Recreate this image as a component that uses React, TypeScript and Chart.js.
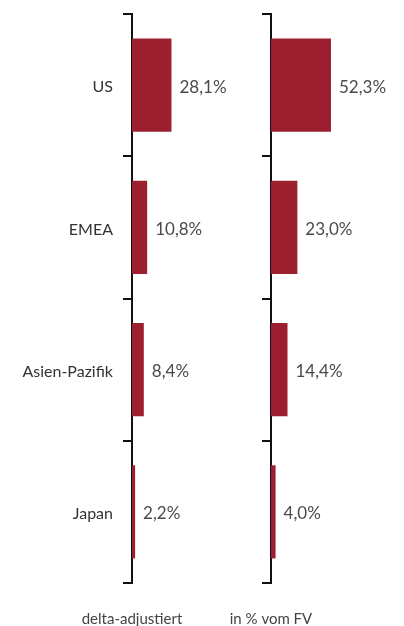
import React, { useEffect, useRef } from "react";
import { Chart, registerables } from "chart.js";

Chart.register(...registerables);

const categories = ["US", "EMEA", "Asien-Pazifik", "Japan"];
const deltaValues = [28.1, 10.8, 8.4, 2.2];
const fvValues = [52.3, 23.0, 14.4, 4.0];
const panelTitles = ["delta-adjustiert", "in % vom FV"];

const BAR_COLOR = "#9b1f2f";
const FONT = "Lato, 'Open Sans', sans-serif";

const fmt = (v: number) => v.toFixed(1).replace(".", ",") + "%";

function makeLabelPlugin(title: string, showCategories: boolean) {
  return {
    id: "valueLabels",
    afterDatasetsDraw(chart: any) {
      const ctx = chart.ctx;
      const meta = chart.getDatasetMeta(0);
      const data = chart.data.datasets[0].data as number[];
      const labels = chart.data.labels as string[];
      const left = chart.chartArea.left;
      ctx.save();
      ctx.font = `17px ${FONT}`;
      ctx.fillStyle = "#4a4a4a";
      ctx.textAlign = "left";
      ctx.textBaseline = "middle";
      meta.data.forEach((bar: any, i: number) => {
        ctx.fillText(fmt(data[i]), bar.x + 8, bar.y + 2);
      });
      if (showCategories) {
        ctx.font = `16px ${FONT}`;
        ctx.fillStyle = "#333";
        ctx.textAlign = "right";
        meta.data.forEach((bar: any, i: number) => {
          ctx.fillText(labels[i], left - 19, bar.y + 2);
        });
      }
      ctx.font = `15px ${FONT}`;
      ctx.fillStyle = "#444";
      ctx.textAlign = "center";
      ctx.textBaseline = "alphabetic";
      ctx.fillText(title, left, 624);
      ctx.restore();
    },
  };
}

function Panel(props: {
  values: number[];
  title: string;
  left: number;
  width: number;
  axisWidth: number;
  max: number;
  showLabels: boolean;
}) {
  const ref = useRef<HTMLCanvasElement>(null);
  useEffect(() => {
    if (!ref.current) return;
    const chart = new Chart(ref.current, {
      type: "bar",
      data: {
        labels: categories,
        datasets: [
          {
            data: props.values,
            backgroundColor: BAR_COLOR,
            borderWidth: 0,
            categoryPercentage: 1,
            barPercentage: 0.655,
          },
        ],
      },
      options: {
        indexAxis: "y",
        animation: false,
        responsive: false,
        maintainAspectRatio: false,
        layout: { padding: { top: 14, bottom: 43, left: 0, right: 0 } },
        plugins: { legend: { display: false }, tooltip: { enabled: false } },
        scales: {
          x: { display: false, min: 0, max: props.max },
          y: {
            type: "category",
            offset: true,
            afterFit: (scale: any) => {
              scale.width = props.axisWidth;
            },
            grid: {
              offset: true,
              drawOnChartArea: false,
              drawTicks: true,
              tickLength: 9,
              color: "#111",
              lineWidth: 2,
            },
            border: { display: true, color: "#111", width: 2 },
            ticks: { display: false },
          },
        },
      },
      plugins: [makeLabelPlugin(props.title, props.showLabels)],
    } as any);
    return () => chart.destroy();
  }, []);
  return (
    <canvas
      ref={ref}
      width={props.width}
      height={626}
      style={{ position: "absolute", left: props.left, top: 0, width: props.width, height: 626 }}
    />
  );
}

export default function App() {
  return (
    <div style={{ position: "absolute", left: 0, top: 0, width: 404, height: 626, background: "#fff" }}>
      <Panel values={deltaValues} title={panelTitles[0]} left={0} width={250} axisWidth={132} max={84} showLabels={true} />
      <Panel values={fvValues} title={panelTitles[1]} left={200} width={204} axisWidth={71} max={116} showLabels={false} />
    </div>
  );
}
